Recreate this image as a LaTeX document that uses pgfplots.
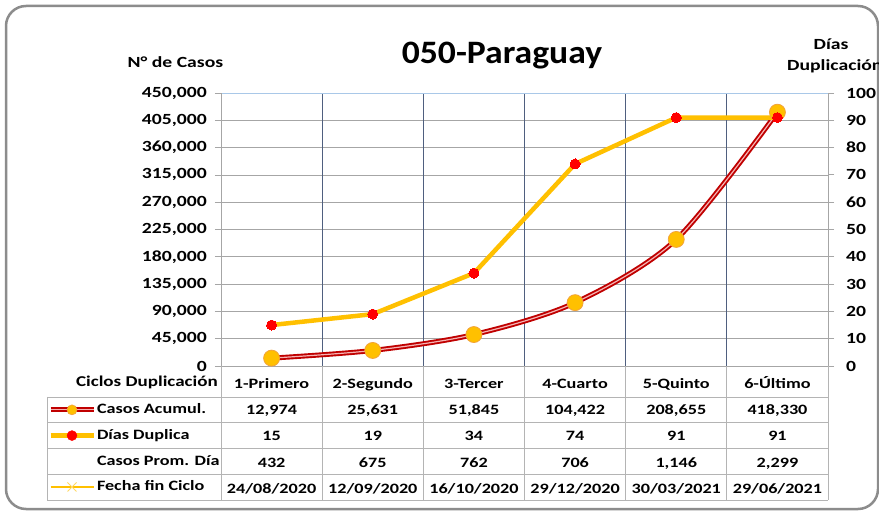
\documentclass[border=0pt]{standalone}
\usepackage{fontspec}
\usepackage{pgfplots}
\pgfplotsset{compat=1.18}
\setmainfont{Carlito}[FakeStretch=1.27]
\newfontfamily\titlefont{Carlito}[FakeStretch=1.09]
\definecolor{casred}{HTML}{C00000}
\definecolor{caspink}{HTML}{F6B3B3}
\definecolor{gold}{HTML}{FFC000}
\definecolor{goldedge}{HTML}{F2A33A}
\definecolor{ptred}{HTML}{FF0000}
\definecolor{gridgray}{HTML}{A6A6A6}
\definecolor{slate}{HTML}{4F5F7F}
\definecolor{topblue}{HTML}{A9C8E8}
\definecolor{tblgray}{HTML}{B4B4B4}
\definecolor{framegray}{HTML}{8C8C8C}
\newcommand{\sm}{\bfseries\fontsize{15.5}{18}\selectfont}
\newcommand{\tb}{\bfseries\fontsize{14.3}{17}\selectfont}
\pgfplotsset{
  common/.style={
    at={(221pt,146pt)}, anchor=south west,
    width=607pt, height=273pt, scale only axis,
    xmin=0.5, xmax=6.5, clip=false,
    /pgf/number format/assume math mode=true,
  }
}
\begin{document}
\begin{tikzpicture}
\useasboundingbox (0pt,0pt) rectangle (879pt,512pt);
\fill[white] (0pt,0pt) rectangle (879pt,512pt);
\draw[framegray, line width=2.5pt, rounded corners=20pt] (6pt,3pt) rectangle (878pt,506pt);
% primary axis: grid and Casos lines
\begin{axis}[common,
  ymin=0, ymax=450000,
  axis line style={draw=none},
  xtick={1,...,6},
  xticklabels={1-Primero,2-Segundo,3-Tercer,4-Cuarto,5-Quinto,6-Último},
  xtick style={draw=none},
  extra x ticks={1.5,2.5,3.5,4.5,5.5},
  extra x tick labels={},
  extra x tick style={xmajorgrids=true, major grid style={slate, line width=0.8pt}, xtick style={draw=none}},
  ytick={0,45000,...,450000},
  ymajorgrids, y grid style={gridgray, line width=0.8pt},
  ytick pos=left, tick align=outside, major tick length=6pt,
  ytick style={gridgray, line width=0.8pt},
  scaled y ticks=false,
  yticklabel style={/pgf/number format/fixed, /pgf/number format/1000 sep={,}, font=\sm, inner sep=0pt, xshift=-8pt},
  xticklabel style={font=\tb, anchor=base, inner sep=0pt, yshift=-16.7pt},
]
\addplot[casred, line width=5pt, smooth, tension=0.5] coordinates {(1,12974)(2,25631)(3,51845)(4,104422)(5,208655)(6,418330)};
\addplot[caspink, line width=1.2pt, smooth, tension=0.5] coordinates {(1,12974)(2,25631)(3,51845)(4,104422)(5,208655)(6,418330)};
\draw[topblue, line width=1pt] (rel axis cs:0,1) -- (rel axis cs:1,1);
\draw[gridgray, line width=0.8pt] (rel axis cs:0,0) -- (rel axis cs:0,1);
\end{axis}
% secondary axis: Dias line, right ticks, legend
\begin{axis}[common,
  ymin=0, ymax=100,
  axis line style={draw=none}, xtick=\empty,
  ytick={0,10,...,100}, ytick pos=right, yticklabel pos=right,
  tick align=outside, major tick length=6pt,
  ytick style={gridgray, line width=0.8pt},
  yticklabel style={font=\sm, anchor=west, inner sep=0pt, xshift=12pt},
  legend style={at={(-0.285,-0.1136)}, anchor=north west, draw=none, fill=none,
    inner sep=0pt, outer sep=0pt, row sep=0pt, column sep=0pt, font=\tb,
    nodes={inner xsep=1pt, inner ysep=0pt, text height=11pt, text depth=3pt, minimum height=25.7pt, anchor=west}},
  legend cell align=left,
]
\addplot[gold, line width=4.5pt, forget plot] coordinates {(1,15)(2,19)(3,34)(4,74)(5,91)(6,91)};
\draw[gridgray, line width=0.8pt] (rel axis cs:1,0) -- (rel axis cs:1,1);
\addlegendimage{legend image code/.code={
  \draw[casred, line width=5pt] (0pt,0pt) -- (43pt,0pt);
  \draw[caspink, line width=1.2pt] (0pt,0pt) -- (43pt,0pt);
  \fill[gold, draw=goldedge, line width=0.6pt] (21.5pt,0pt) circle (5pt);}}
\addlegendentry{Casos Acumul.}
\addlegendimage{legend image code/.code={
  \draw[gold, line width=4.5pt] (0pt,0pt) -- (43pt,0pt);
  \fill[ptred] (21.5pt,0pt) circle (5pt);}}
\addlegendentry{Días Duplica}
\addlegendimage{empty legend}
\addlegendentry{Casos Prom. Día}
\addlegendimage{legend image code/.code={
  \draw[gold, line width=1.5pt] (0pt,0pt) -- (43pt,0pt);
  \draw[gold!60!white, line width=1pt] (17pt,-4.5pt) -- (26pt,4.5pt) (17pt,4.5pt) -- (26pt,-4.5pt);}}
\addlegendentry{Fecha fin Ciclo}
\end{axis}
% primary scale: Casos markers
\begin{axis}[common, ymin=0, ymax=450000, hide axis]
\addplot[only marks, mark=*, mark size=8pt, mark options={fill=gold, draw=goldedge, line width=0.8pt}] coordinates {(1,12974)(2,25631)(3,51845)(4,104422)(5,208655)(6,418330)};
\end{axis}
% secondary scale: Dias markers
\begin{axis}[common, ymin=0, ymax=100, hide axis]
\addplot[only marks, mark=*, mark size=5pt, mark options={fill=ptred, draw=ptred, line width=0pt}] coordinates {(1,15)(2,19)(3,34)(4,74)(5,91)(6,91)};
\end{axis}
% texts
\node[font=\titlefont\bfseries\fontsize{32.7}{36}\selectfont, anchor=base] at (502pt,448.7pt) {050-Paraguay};
\node[font=\sm, anchor=base] at (175.5pt,444pt) {N° de Casos};
\node[font=\sm, anchor=base] at (831pt,462pt) {Días};
\node[font=\sm, anchor=base west, inner sep=0pt] at (787pt,441pt) {Duplicación};
\node[font=\bfseries\fontsize{15}{18}\selectfont, anchor=base east, inner sep=0pt] at (218pt,125.3pt) {Ciclos Duplicación};
% data table
\begin{scope}[tblgray, line width=0.8pt]
\foreach \yy in {115,89.3,63.6,38,12} \draw (47pt,\yy pt) -- (828pt,\yy pt);
\draw (47pt,115pt) -- (47pt,12pt);
\foreach \xx in {221,322.2,423.3,524.5,625.7,726.8,828} \draw (\xx pt,146pt) -- (\xx pt,12pt);
\end{scope}
\foreach \v [count=\i from 0] in {12{,}974,25{,}631,51{,}845,104{,}422,208{,}655,418{,}330}
  \node[font=\tb, anchor=base, inner sep=0pt] at ({271.6pt+\i*101.17pt},97pt) {\v};
\foreach \v [count=\i from 0] in {15,19,34,74,91,91}
  \node[font=\tb, anchor=base, inner sep=0pt] at ({271.6pt+\i*101.17pt},71pt) {\v};
\foreach \v [count=\i from 0] in {432,675,762,706,1{,}146,2{,}299}
  \node[font=\tb, anchor=base, inner sep=0pt] at ({271.6pt+\i*101.17pt},44.7pt) {\v};
\foreach \v [count=\i from 0] in {24/08/2020,12/09/2020,16/10/2020,29/12/2020,30/03/2021,29/06/2021}
  \node[font=\tb, anchor=base, inner sep=0pt] at ({271.6pt+\i*101.17pt},18.7pt) {\v};
\end{tikzpicture}
\end{document}
